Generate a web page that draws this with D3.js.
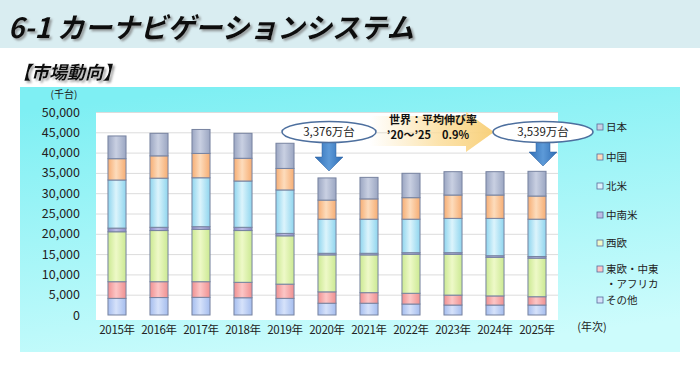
<!DOCTYPE html>
<html><head><meta charset="utf-8">
<script src="https://cdn.jsdelivr.net/npm/d3@7"></script>
<style>
html,body{margin:0;padding:0;background:#fff;}
svg{display:block;font-family:"Noto Sans CJK JP","Noto Sans",sans-serif;}
</style></head>
<body><svg id="c" width="700" height="373"></svg>
<script>
// ---- data (thousand units) ----
const years = ["2015年","2016年","2017年","2018年","2019年","2020年","2021年","2022年","2023年","2024年","2025年"];
const other   = [4100,4300,4350,4250,4100,2900,2900,2700,2450,2450,2450];
const eeu     = [4100,3900,3850,3800,3500,2800,2600,2650,2450,2250,2050];
const weu     = [12300,12600,12900,12750,11900,9100,9300,9600,10050,9500,9500];
const latam   = [900,800,650,800,600,400,400,400,400,400,400];
const namer   = [11850,12100,12050,11400,10700,8400,8400,8250,8450,9200,9200];
const china   = [5250,5500,6000,5600,5300,4700,5000,5300,5750,5750,5700];
const japan   = [5600,5550,5900,6150,6200,5460,5300,6000,5750,5750,6090];
const yTicks  = [0,5000,10000,15000,20000,25000,30000,35000,40000,45000,50000];
const seriesKeys  = ["other","eeu","weu","latam","namer","china","japan"];
const seriesNames = ["その他","東欧・中東・アフリカ","西欧","中南米","北米","中国","日本"];
const seriesVals  = [other,eeu,weu,latam,namer,china,japan];
const callouts = [{year:"2020年", label:"3,376万台"},{year:"2025年", label:"3,539万台"}];
const growthText = ["世界：平均伸び率","’20～’25　0.9%"];

const colors = {
  japan:["#c9d0e2","#9ba6c2"], china:["#fddcbc","#f6ad73"], namer:["#dcf4fc","#8fd5ee"],
  latam:["#bcbce4","#8c8cc8"], weu:["#eef9c8","#cbe992"], eeu:["#fcc6c6","#ef9090"],
  other:["#d6e2fa","#a5bdee"]
};

const rows = years.map((y,i)=>{const r={year:y}; seriesKeys.forEach((k,j)=>r[k]=seriesVals[j][i]); return r;});
const svg = d3.select("#c");
const defs = svg.append("defs");

seriesKeys.forEach(k=>{
  const g = defs.append("linearGradient").attr("id","g_"+k).attr("x1","0").attr("x2","1").attr("y1","0").attr("y2","0");
  g.append("stop").attr("offset","0").attr("stop-color",colors[k][1]);
  g.append("stop").attr("offset","0.45").attr("stop-color",colors[k][0]);
  g.append("stop").attr("offset","1").attr("stop-color",colors[k][1]);
});
const bg = defs.append("linearGradient").attr("id","bg").attr("x1","0.3").attr("x2","0.6").attr("y1","0").attr("y2","1");
bg.append("stop").attr("offset","0").attr("stop-color","#7eeff3");
bg.append("stop").attr("offset","1").attr("stop-color","#cdfcfc");
const ag = defs.append("linearGradient").attr("id","arr").attr("x1","0").attr("x2","1").attr("y1","0").attr("y2","0");
ag.append("stop").attr("offset","0").attr("stop-color","#2f6db4");
ag.append("stop").attr("offset","0.5").attr("stop-color","#5d9ad8");
ag.append("stop").attr("offset","1").attr("stop-color","#2f6db4");
const yg = defs.append("linearGradient").attr("id","yel").attr("x1","0").attr("x2","1").attr("y1","0").attr("y2","0");
yg.append("stop").attr("offset","0").attr("stop-color","#fbe0a0").attr("stop-opacity","0");
yg.append("stop").attr("offset","0.55").attr("stop-color","#fbdc98").attr("stop-opacity","0.8");
yg.append("stop").attr("offset","1").attr("stop-color","#f8d07a");
const sh = defs.append("filter").attr("id","shadow").attr("x","-5%").attr("y","-20%").attr("width","110%").attr("height","150%");
sh.append("feDropShadow").attr("dx",2).attr("dy",2).attr("stdDeviation",0.8).attr("flood-color","#777").attr("flood-opacity",0.7);

// header band
svg.append("rect").attr("x",0).attr("y",0).attr("width",700).attr("height",48).attr("fill","#d9edf1");
svg.append("text").attr("x",8).attr("y",38).attr("font-size",28).attr("font-weight","bold").attr("font-style","italic")
  .attr("fill","#111").attr("textLength",406).attr("lengthAdjust","spacingAndGlyphs").attr("filter","url(#shadow)")
  .text("6-1 カーナビゲーションシステム");
svg.append("text").attr("x",13).attr("y",79).attr("font-size",18).attr("font-weight","bold").attr("font-style","italic")
  .attr("fill","#111").attr("textLength",108).attr("lengthAdjust","spacingAndGlyphs").attr("filter","url(#shadow)")
  .text("【市場動向】");

// container
svg.append("rect").attr("x",20).attr("y",87).attr("width",660).attr("height",265).attr("fill","url(#bg)");

// scales
const x = d3.scaleBand().domain(years).range([96,558]).paddingInner(0.57).paddingOuter(0.285);
const y = d3.scaleLinear().domain([0,50000]).range([315,112]);

// plot area
svg.append("rect").attr("x",96).attr("y",y(50000)).attr("width",462).attr("height",320-y(50000)).attr("fill","#fff");
svg.append("g").selectAll("line").data(yTicks.filter(t=>t>0)).join("line")
  .attr("x1",96).attr("x2",558).attr("y1",d=>y(d)+0.5).attr("y2",d=>y(d)+0.5)
  .attr("stroke","#dcdcdc").attr("stroke-width",1);

// y axis labels
const yAxis = d3.axisLeft(y).tickValues(yTicks).tickSize(0).tickPadding(0).tickFormat(d3.format(","));
const ya = svg.append("g").attr("transform","translate(80,0)").call(yAxis);
ya.select(".domain").remove();
ya.selectAll("text").attr("font-size",12.5).attr("fill","#222").attr("font-family","'Noto Sans CJK JP',sans-serif");
svg.append("text").attr("x",64).attr("y",98).attr("text-anchor","middle").attr("font-size",10).attr("fill","#222").text("(千台)");

// x axis labels
const xAxis = d3.axisBottom(x).tickSize(0).tickPadding(0);
const xa = svg.append("g").attr("transform","translate(0,326)").call(xAxis);
xa.select(".domain").remove();
xa.selectAll("text").attr("font-size",11.5).attr("fill","#222").attr("letter-spacing","-0.3").attr("font-family","'Noto Sans CJK JP',sans-serif");
svg.append("text").attr("x",592).attr("y",331).attr("text-anchor","middle").attr("font-size",11).attr("fill","#222").text("(年次)");

// bars
const stack = d3.stack().keys(seriesKeys)(rows);
svg.append("g").selectAll("g").data(stack).join("g")
  .attr("fill",d=>"url(#g_"+d.key+")")
  .selectAll("rect").data(d=>d).join("rect")
  .attr("x",d=>x(d.data.year)).attr("width",x.bandwidth())
  .attr("y",d=>y(d[1])).attr("height",d=>y(d[0])-y(d[1]))
  .attr("stroke","#7783a0").attr("stroke-width",1);

// legend
const legOrder = seriesKeys.slice().reverse();
const legY = {japan:127,china:157,namer:186,latam:215,weu:243,eeu:269,other:300};
const lg = svg.append("g");
legOrder.forEach(k=>{
  const name = seriesNames[seriesKeys.indexOf(k)];
  lg.append("rect").attr("x",597).attr("y",legY[k]-3).attr("width",6).attr("height",6)
    .attr("fill",colors[k][0]).attr("stroke","#5a6a9a").attr("stroke-width",0.8);
  if(k==="eeu"){
    lg.append("text").attr("x",606).attr("y",legY[k]+4).attr("font-size",10.5).attr("fill","#222").text("東欧・中東");
    lg.append("text").attr("x",606).attr("y",legY[k]+19).attr("font-size",10.5).attr("fill","#222").text("・アフリカ");
  } else {
    lg.append("text").attr("x",606).attr("y",legY[k]+4).attr("font-size",10.5).attr("fill","#222").text(name);
  }
});

// growth arrow
const ga = svg.append("g");
ga.append("path").attr("d","M370,116 L466,116 L466,112 L494,132 L466,152 L466,146 L370,146 Z").attr("fill","url(#yel)");
ga.append("text").attr("x",433).attr("y",124).attr("text-anchor","middle").attr("font-size",11).attr("font-weight","bold").attr("fill","#111").text(growthText[0]);
ga.append("text").attr("x",428).attr("y",139).attr("text-anchor","middle").attr("font-size",11).attr("font-weight","bold").attr("fill","#111").text(growthText[1]);

// callouts
const offs = [{dx:2,head:157,tip:171},{dx:6,head:152,tip:166}];
callouts.forEach((c,i)=>{
  const cx = x(c.year)+x.bandwidth()/2 + offs[i].dx;
  const g = svg.append("g");
  const o = offs[i];
  g.append("path").attr("d",`M${cx-7},141 L${cx+7},141 L${cx+7},${o.head} L${cx+14},${o.head} L${cx},${o.tip} L${cx-14},${o.head} L${cx-7},${o.head} Z`)
    .attr("fill","url(#arr)").attr("stroke","#2b5e9e").attr("stroke-width",0.5);
  g.append("ellipse").attr("cx",cx).attr("cy",132).attr("rx",i===0?47:50).attr("ry",10.5)
    .attr("fill","#fff").attr("stroke","#4d6f9e").attr("stroke-width",1.5);
  g.append("text").attr("x",cx).attr("y",136).attr("text-anchor","middle").attr("font-size",11.5).attr("fill","#222").text(c.label);
});
</script></body></html>
